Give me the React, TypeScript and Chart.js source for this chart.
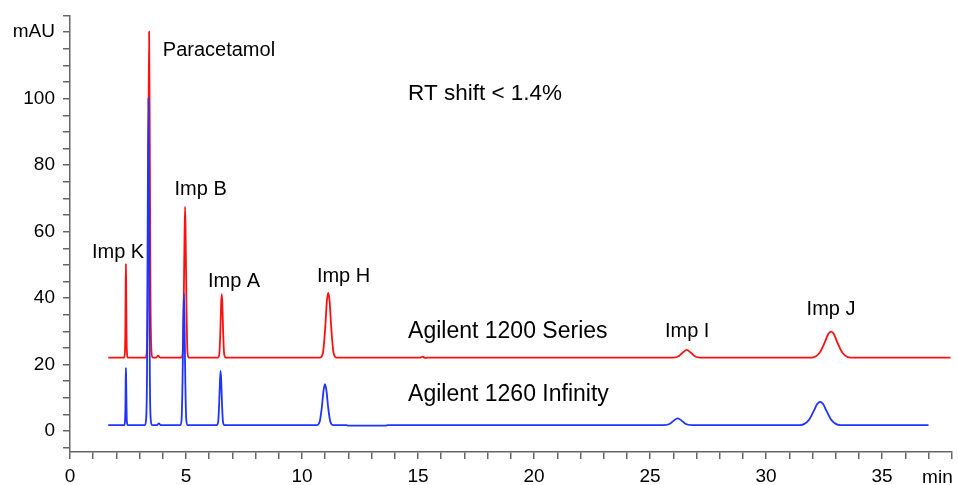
import React, { useEffect, useRef } from "react";
import { Chart, registerables } from "chart.js";

Chart.register(...registerables);

// Agilent 1200 Series (red) – retention time (min) and signal (mAU)
const time1200: number[] = [
  1.65,
  2.33, 2.365, 2.385, 2.4, 2.41, 2.42, 2.435, 2.455, 2.49,
  3.26, 3.31, 3.35, 3.38, 3.41, 3.44, 3.47, 3.51, 3.56,
  3.72, 3.8, 3.88,
  4.81, 4.86, 4.9, 4.935, 4.96, 4.985, 5.02, 5.06, 5.11,
  6.38, 6.44, 6.48, 6.515, 6.54, 6.565, 6.6, 6.64, 6.7,
  10.77, 10.9, 10.99, 11.07, 11.13, 11.19, 11.27, 11.36, 11.49,
  15.1, 15.2, 15.3, 15.4,
  26.0, 26.25, 26.42, 26.58, 26.74, 26.91, 27.16,
  31.94, 32.3, 32.52, 32.68, 32.8, 32.92, 33.08, 33.3, 33.66,
  37.95,
];
const signal1200: number[] = [
  22.1,
  22.1, 23.5, 30, 45, 50.3, 45, 30, 23.5, 22.1,
  22.1, 24, 40, 85, 120.2, 85, 40, 24, 22.1,
  22.1, 22.7, 22.1,
  22.1, 24, 38, 58, 67.5, 58, 38, 24, 22.1,
  22.1, 23.5, 30, 38.5, 41.2, 38.5, 30, 23.5, 22.1,
  22.1, 23.5, 30, 39, 41.6, 39, 30, 23.5, 22.1,
  22.1, 22.4, 22.0, 22.1,
  22.1, 22.6, 23.7, 24.4, 23.7, 22.6, 22.1,
  22.1, 23.5, 26.5, 29.2, 29.9, 29.2, 26.5, 23.5, 22.1,
  22.1,
];

// Agilent 1260 Infinity (blue)
const time1260: number[] = [
  1.65,
  2.34, 2.37, 2.39, 2.4, 2.41, 2.42, 2.435, 2.45, 2.49,
  3.23, 3.28, 3.32, 3.35, 3.38, 3.41, 3.44, 3.48, 3.53,
  3.75, 3.83, 3.91,
  4.76, 4.81, 4.85, 4.885, 4.91, 4.935, 4.97, 5.01, 5.06,
  6.33, 6.39, 6.43, 6.465, 6.49, 6.515, 6.55, 6.59, 6.65,
  10.63, 10.76, 10.85, 10.93, 10.99, 11.05, 11.13, 11.22, 11.35,
  11.9, 12.0, 13.6, 13.7,
  25.6, 25.86, 26.03, 26.19, 26.35, 26.52, 26.78,
  31.47, 31.83, 32.05, 32.21, 32.33, 32.45, 32.61, 32.83, 33.19,
  37.0,
];
const signal1260: number[] = [
  1.8,
  1.8, 3.0, 8, 15.5, 19.0, 15.5, 8, 3.0, 1.8,
  1.8, 3.5, 18, 65, 100.1, 65, 18, 3.5, 1.8,
  1.8, 2.3, 1.8,
  1.8, 3.5, 15, 33, 41.4, 33, 15, 3.5, 1.8,
  1.8, 3.0, 8.5, 15.5, 18.1, 15.5, 8.5, 3.0, 1.8,
  1.8, 2.8, 6.9, 12.3, 14.1, 12.3, 6.9, 2.8, 1.8,
  1.8, 1.65, 1.65, 1.8,
  1.8, 2.2, 3.2, 3.8, 3.2, 2.2, 1.8,
  1.8, 3.2, 6.0, 8.2, 8.8, 8.2, 6.0, 3.2, 1.8,
  1.8,
];

// Peak annotations: text, time (min), signal (mAU)
const peakNames: string[] = ["Imp K", "Paracetamol", "Imp B", "Imp A", "Imp H", "Imp I", "Imp J"];
const peakTextTime: number[] = [2.07, 4.0, 5.63, 7.07, 11.79, 26.6, 32.8];
const peakTextSignal: number[] = [52.1, 112.8, 71.0, 43.2, 44.9, 28.2, 34.9];
const peakTextAlign: string[] = ["center", "left", "center", "center", "center", "center", "center"];

// Other notes: text, time, signal
const noteTexts: string[] = ["RT shift < 1.4%", "Agilent 1200 Series", "Agilent 1260 Infinity"];
const noteTime: number[] = [14.57, 14.57, 14.57];
const noteSignal: number[] = [99.6, 27.9, 9.1];
const noteSizes: number[] = [22.5, 23, 23];

const X_MIN = 0;
const X_MAX = 38;
const Y_MIN = -6.3;
const Y_MAX = 125;

const FONT = "'Liberation Sans', Arial, sans-serif";
const TEXT = "#000000";
const AXIS = "#666666";

const toPoints = (t: number[], s: number[]) => t.map((x, i) => ({ x, y: s[i] }));

const annotationPlugin = {
  id: "annotations",
  afterDraw(chart: any) {
    const { ctx, scales } = chart;
    const xs = scales.x;
    const ys = scales.y;
    ctx.save();
    ctx.fillStyle = TEXT;
    ctx.textBaseline = "alphabetic";
    ctx.font = `20px ${FONT}`;
    peakNames.forEach((name, i) => {
      ctx.textAlign = peakTextAlign[i] as CanvasTextAlign;
      ctx.fillText(name, xs.getPixelForValue(peakTextTime[i]), ys.getPixelForValue(peakTextSignal[i]));
    });
    ctx.textAlign = "left";
    noteTexts.forEach((txt, i) => {
      ctx.font = `${noteSizes[i]}px ${FONT}`;
      ctx.fillText(txt, xs.getPixelForValue(noteTime[i]), ys.getPixelForValue(noteSignal[i]));
    });
    // axis unit "min"
    ctx.font = `19px ${FONT}`;
    ctx.textAlign = "right";
    ctx.fillText("min", xs.getPixelForValue(X_MAX) + 1, chart.height - 2);
    ctx.restore();
  },
};

export default function App() {
  const canvasRef = useRef<HTMLCanvasElement | null>(null);

  useEffect(() => {
    if (!canvasRef.current) return;
    const chart = new Chart(canvasRef.current, {
      type: "line",
      data: {
        datasets: [
          {
            label: "Agilent 1260 Infinity",
            data: toPoints(time1260, signal1260),
            borderColor: "#1f33ff",
            borderWidth: 1.8,
            pointRadius: 0,
            fill: false,
            cubicInterpolationMode: "monotone",
          },
          {
            label: "Agilent 1200 Series",
            data: toPoints(time1200, signal1200),
            borderColor: "#ff1010",
            borderWidth: 1.8,
            pointRadius: 0,
            fill: false,
            cubicInterpolationMode: "monotone",
          },
        ],
      },
      options: {
        responsive: false,
        animation: false,
        devicePixelRatio: 1,
        layout: { padding: { left: 0, right: 6.3, top: 15.6, bottom: 0 } },
        plugins: {
          legend: { display: false },
          tooltip: { enabled: false },
        },
        scales: {
          x: {
            type: "linear",
            min: X_MIN,
            max: X_MAX,
            afterFit: (s: any) => {
              s.height = 33;
              s.paddingLeft = 0;
              s.paddingRight = 0;
            },
            ticks: {
              stepSize: 1,
              autoSkip: false,
              maxRotation: 0,
              includeBounds: false,
              padding: 6,
              color: TEXT,
              font: { family: FONT, size: 19 },
              callback: (v: any) => (v % 5 === 0 && v <= 35 ? String(v) : ""),
            },
            grid: {
              drawOnChartArea: false,
              drawTicks: true,
              tickLength: 7,
              color: AXIS,
              lineWidth: 1.5,
            },
            border: { color: AXIS, width: 1.5 },
          },
          y: {
            type: "linear",
            min: Y_MIN,
            max: Y_MAX,
            afterFit: (s: any) => {
              s.width = 70;
              s.paddingTop = 0;
              s.paddingBottom = 0;
            },
            ticks: {
              stepSize: 5,
              autoSkip: false,
              includeBounds: false,
              padding: 8,
              color: TEXT,
              font: { family: FONT, size: 19 },
              callback: (v: any) => (v === 120 ? "mAU" : v % 20 === 0 && v >= 0 && v <= 100 ? String(v) : ""),
            },
            grid: {
              drawOnChartArea: false,
              drawTicks: true,
              tickLength: 7,
              color: AXIS,
              lineWidth: 1.5,
            },
            border: { color: AXIS, width: 1.5 },
          },
        },
      } as any,
      plugins: [annotationPlugin],
    });
    return () => chart.destroy();
  }, []);

  return (
    <div style={{ position: "absolute", left: 0, top: 0, width: 958, height: 485, background: "#fff" }}>
      <canvas ref={canvasRef} width={958} height={485} style={{ display: "block" }} />
    </div>
  );
}
